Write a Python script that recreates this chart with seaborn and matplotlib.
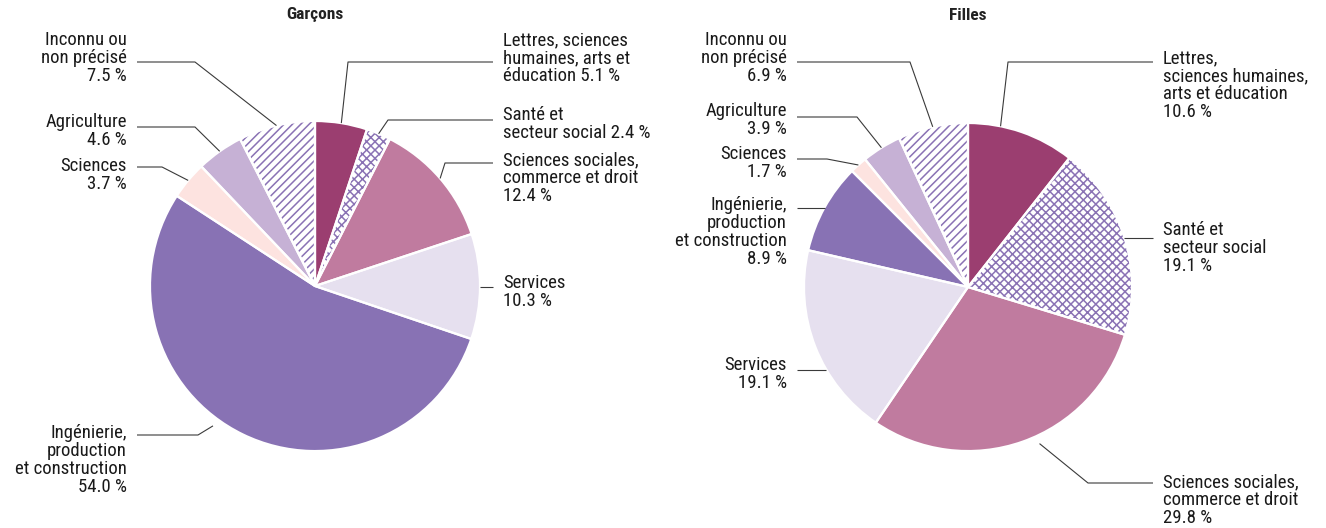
import numpy as np
import matplotlib
matplotlib.use("Agg")
import matplotlib.pyplot as plt
import seaborn as sns
from matplotlib import font_manager

# --- data -------------------------------------------------------------
categories = [
    "Lettres, sciences humaines, arts et éducation",
    "Santé et secteur social",
    "Sciences sociales, commerce et droit",
    "Services",
    "Ingénierie, production et construction",
    "Sciences",
    "Agriculture",
    "Inconnu ou non précisé",
]
garcons = [5.1, 2.4, 12.4, 10.3, 54.0, 3.7, 4.6, 7.5]
filles = [10.6, 19.1, 29.8, 19.1, 8.9, 1.7, 3.9, 6.9]

# label texts (line breaks differ between the two pies)
names_garcons = [
    "Lettres, sciences\nhumaines, arts et\néducation",
    "Santé et\nsecteur social",
    "Sciences sociales,\ncommerce et droit",
    "Services",
    "Ingénierie,\nproduction\net construction",
    "Sciences",
    "Agriculture",
    "Inconnu ou\nnon précisé",
]
sep_garcons = [" ", " ", "\n", "\n", "\n", "\n", "\n", "\n"]
names_filles = [
    "Lettres,\nsciences humaines,\narts et éducation",
    "Santé et\nsecteur social",
    "Sciences sociales,\ncommerce et droit",
    "Services",
    "Ingénierie,\nproduction\net construction",
    "Sciences",
    "Agriculture",
    "Inconnu ou\nnon précisé",
]
sep_filles = ["\n"] * 8
titles = ["Garçons", "Filles"]

# --- style ------------------------------------------------------------
sns.set_theme(style="white")
installed = {f.name for f in font_manager.fontManager.ttflist}
family = next((f for f in ["Roboto Condensed", "Liberation Sans Narrow", "Roboto", "DejaVu Sans"]
               if f in installed), "DejaVu Sans")
plt.rcParams["font.family"] = [family, "DejaVu Sans"]
plt.rcParams["hatch.linewidth"] = 1.1

HATCH = "#8a72b4"
colors = sns.color_palette([
    "#9b3e70",  # lettres
    "#ffffff",  # santé (hatched)
    "#c07b9f",  # sciences sociales
    "#e6e0ef",  # services
    "#8872b4",  # ingénierie
    "#fde3e0",  # sciences
    "#c6b1d5",  # agriculture
    "#ffffff",  # inconnu (hatched)
])
hatches = [None, "xxxx", None, None, None, None, None, "////"]

W, H = 1326, 528
fig = plt.figure(figsize=(W / 100, H / 100), dpi=100)
ax = fig.add_axes([0, 0, 1, 1])

LINE = "#3a3a3a"
FS = 13.5


def draw_pie(values, names, seps, center, radius, explode_idx, title, layout):
    cx, cy = center
    explode = [0.05 if i == explode_idx else 0 for i in range(len(values))]
    wedges, _ = ax.pie(values, startangle=90, counterclock=False, radius=radius,
                       center=(cx, H - cy), explode=explode, colors=colors,
                       wedgeprops=dict(edgecolor="white", linewidth=0))
    for w, h in zip(wedges, hatches):
        if h:
            w.set_edgecolor(HATCH)
            w.set_hatch(h)
    # white separators between slices
    ax.pie(values, startangle=90, counterclock=False, radius=radius,
           center=(cx, H - cy), explode=explode,
           wedgeprops=dict(fill=False, edgecolor="white", linewidth=1.6))

    ax.text(cx, H - 15, title, ha="center", va="center", fontsize=12.5,
            fontweight="bold", color="#222222")

    total = float(sum(values))
    cum = 0.0
    for i, v in enumerate(values):
        tx, ty, ha, line_y, elbow, frac = layout[i]
        ang = np.deg2rad(90 - (cum + frac * v) / total * 360)
        cum += v
        ox = oy = 0.0
        if explode[i]:
            mid = np.deg2rad(90 - (cum - v / 2) / total * 360)
            ox, oy = explode[i] * radius * np.cos(mid), explode[i] * radius * np.sin(mid)
        axp = cx + ox + radius * np.cos(ang)
        ayp = (H - cy) + oy + radius * np.sin(ang)
        ly = H - line_y if line_y is not None else ayp
        ex = elbow if elbow is not None else axp
        start = tx - 10 if ha == "left" else tx + 10
        ax.plot([start, ex, axp], [ly, ly, ayp], color=LINE, lw=0.8,
                solid_capstyle="butt")
        ax.text(tx, H - ty, f"{names[i]}{seps[i]}{v:.1f} %", ha=ha, va="center",
                fontsize=FS, linespacing=1.0, color="#1a1a1a",
                multialignment=ha)


# (text x, text centre y, alignment, leader y, elbow x, anchor fraction)
layout_g = [
    (503, 58, "left", 62, 348, 0.5),
    (503, 124, "left", 120, 388, 0.5),
    (503, 178, "left", 163, 445, 0.5),
    (503, 292, "left", None, None, 0.5),
    (127, 460, "right", 435, 198, 0.555),
    (127, 175, "right", 167, 162, 0.5),
    (127, 131, "right", 127, 195, 0.5),
    (127, 58, "right", 62, 195, 0.5),
]
layout_f = [
    (1163, 85, "left", 62, 1008, 0.3),
    (1163, 248, "left", None, None, 0.5),
    (1163, 500, "left", 483, 1088, 0.45),
    (787, 374, "right", None, None, 0.37),
    (787, 232, "right", None, None, 0.5),
    (787, 163, "right", 159, 827, 0.5),
    (787, 120, "right", 117, 857, 0.5),
    (787, 58, "right", 62, 910, 0.5),
]

draw_pie(garcons, names_garcons, sep_garcons, (315, 286), 165, 4, titles[0], layout_g)
draw_pie(filles, names_filles, sep_filles, (968, 287), 164, 2, titles[1], layout_f)

ax.set_xlim(0, W)
ax.set_ylim(0, H)
ax.set_aspect("equal")
ax.axis("off")
fig.savefig("out.png", dpi=100, facecolor="white")
